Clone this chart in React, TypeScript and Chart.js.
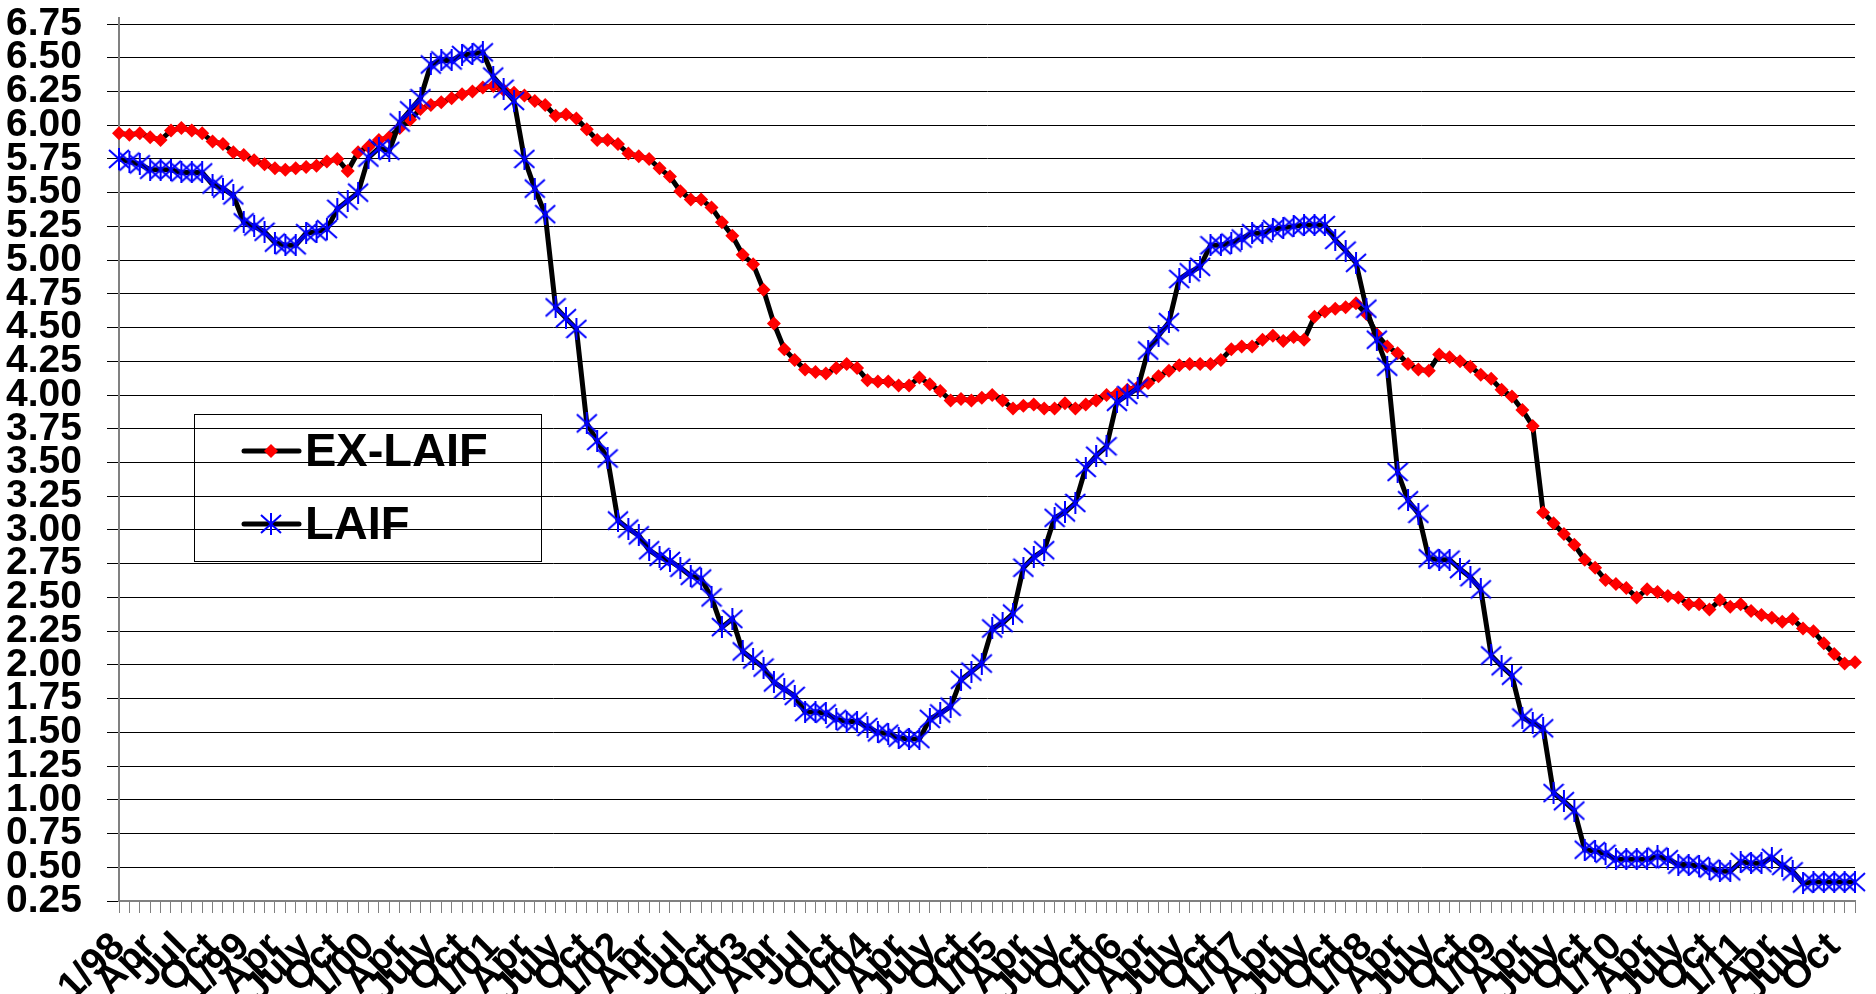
import React, { useEffect, useRef } from "react";
import { Chart, registerables } from "chart.js";

Chart.register(...registerables);

// Quarterly axis labels (one every third month), Jan 1998 .. Oct 2011
const quarterLabels = [
  "1/98", "Apr", "Jul", "Oct",
  "1/99", "Apr", "July", "Oct",
  "1/00", "Apr", "July", "Oct",
  "1/01", "Apr", "July", "Oct",
  "1/02", "Apr", "Jul", "Oct",
  "1/03", "Apr", "Jul", "Oct",
  "1/04", "Apr", "July", "Oct",
  "1/05", "Apr", "July", "Oct",
  "1/06", "Apr", "July", "Oct",
  "1/07", "Apr", "July", "Oct",
  "1/08", "Apr", "July", "Oct",
  "1/09", "Apr", "July", "Oct",
  "1/10", "Apr", "July", "Oct",
  "1/11", "Apr", "July", "Oct",
];

// Monthly values, Jan 1998 .. Dec 2011
const laif = [
  5.75, 5.73, 5.71, 5.67, 5.67, 5.67, 5.65, 5.65, 5.65, 5.56, 5.53, 5.48,
  5.28, 5.25, 5.21, 5.13, 5.11, 5.11, 5.20, 5.21, 5.23, 5.38, 5.44, 5.50,
  5.76, 5.83, 5.81, 6.02, 6.11, 6.20, 6.45, 6.48, 6.48, 6.52, 6.53, 6.54,
  6.36, 6.27, 6.18, 5.75, 5.53, 5.34, 4.65, 4.57, 4.49, 3.79, 3.66, 3.53,
  3.07, 3.01, 2.96, 2.85, 2.80, 2.77, 2.72, 2.66, 2.64, 2.50, 2.28, 2.34,
  2.10, 2.04, 1.98, 1.87, 1.82, 1.77, 1.65, 1.65, 1.64, 1.60, 1.58, 1.58,
  1.54, 1.50, 1.49, 1.46, 1.45, 1.45, 1.60, 1.64, 1.69, 1.89, 1.95, 2.01,
  2.27, 2.31, 2.38, 2.72, 2.80, 2.85, 3.09, 3.13, 3.20, 3.46, 3.55, 3.62,
  3.95, 4.00, 4.05, 4.33, 4.44, 4.54, 4.86, 4.91, 4.95, 5.11, 5.11, 5.13,
  5.16, 5.20, 5.20, 5.23, 5.24, 5.25, 5.26, 5.26, 5.26, 5.15, 5.07, 4.98,
  4.64, 4.41, 4.21, 3.43, 3.22, 3.12, 2.79, 2.78, 2.78, 2.71, 2.65, 2.56,
  2.07, 1.99, 1.92, 1.61, 1.57, 1.53, 1.05, 0.99, 0.92, 0.63, 0.62, 0.60,
  0.56, 0.56, 0.56, 0.56, 0.58, 0.56, 0.52, 0.52, 0.51, 0.49, 0.47, 0.47,
  0.54, 0.53, 0.53, 0.57, 0.51, 0.47, 0.38, 0.39, 0.39, 0.39, 0.39, 0.39,
];

const exLaif = [
  5.94, 5.93, 5.94, 5.91, 5.89, 5.96, 5.98, 5.96, 5.94, 5.88, 5.86, 5.80,
  5.78, 5.74, 5.71, 5.68, 5.67, 5.68, 5.69, 5.70, 5.73, 5.75, 5.66, 5.80,
  5.84, 5.89, 5.91, 5.98, 6.04, 6.12, 6.15, 6.17, 6.20, 6.23, 6.25, 6.28,
  6.29, 6.26, 6.24, 6.22, 6.18, 6.15, 6.07, 6.08, 6.05, 5.97, 5.89, 5.89,
  5.86, 5.79, 5.77, 5.75, 5.68, 5.62, 5.51, 5.45, 5.45, 5.39, 5.28, 5.18,
  5.04, 4.97, 4.78, 4.53, 4.34, 4.26, 4.19, 4.17, 4.16, 4.20, 4.23, 4.20,
  4.11, 4.10, 4.10, 4.07, 4.07, 4.13, 4.08, 4.03, 3.96, 3.97, 3.96, 3.98,
  4.00, 3.96, 3.90, 3.92, 3.93, 3.90, 3.90, 3.94, 3.90, 3.93, 3.96, 4.00,
  4.01, 4.04, 4.06, 4.09, 4.14, 4.18, 4.22, 4.23, 4.23, 4.23, 4.26, 4.34,
  4.36, 4.36, 4.41, 4.44, 4.40, 4.43, 4.41, 4.58, 4.62, 4.64, 4.65, 4.68,
  4.60, 4.45, 4.36, 4.31, 4.23, 4.19, 4.18, 4.30, 4.28, 4.25, 4.21, 4.15,
  4.12, 4.04, 3.99, 3.89, 3.77, 3.13, 3.05, 2.97, 2.89, 2.78, 2.72, 2.63,
  2.60, 2.57, 2.50, 2.56, 2.54, 2.51, 2.50, 2.45, 2.45, 2.41, 2.48, 2.43,
  2.45, 2.40, 2.37, 2.35, 2.32, 2.34, 2.27, 2.25, 2.16, 2.08, 2.01, 2.02,
];

const seriesNames = ["EX-LAIF", "LAIF"];

const FONT = "'Liberation Sans', Arial, sans-serif";

function makeAsterisk(size: number, color: string, lw: number) {
  const c = document.createElement("canvas");
  c.width = size;
  c.height = size;
  const g = c.getContext("2d")!;
  g.strokeStyle = color;
  g.lineWidth = lw;
  g.beginPath();
  g.moveTo(1, 2);
  g.lineTo(size - 1, size - 2);
  g.moveTo(size - 1, 2);
  g.lineTo(1, size - 2);
  g.moveTo(size / 2, 0);
  g.lineTo(size / 2, size);
  g.stroke();
  return c;
}

export default function App() {
  const ref = useRef<HTMLCanvasElement | null>(null);

  useEffect(() => {
    if (!ref.current) return;
    const asterisk = makeAsterisk(22, "#0000FF", 2);
    const categories = laif.map((_, i) => (i % 3 === 0 ? quarterLabels[i / 3] ?? "" : ""));

    const legendPlugin = {
      id: "boxLegend",
      afterDraw(chart: any) {
        const ctx = chart.ctx as CanvasRenderingContext2D;
        const a = chart.chartArea;
        ctx.save();
        // small extension of the value axis above the plot, as in the original
        ctx.strokeStyle = "#808080";
        ctx.lineWidth = 2;
        ctx.beginPath();
        ctx.moveTo(a.left, a.top - 7);
        ctx.lineTo(a.left, a.top);
        ctx.stroke();

        const bx = a.left + 75;
        const by = a.top + 390;
        const bw = 347;
        const bh = 147;
        ctx.strokeStyle = "#000";
        ctx.lineWidth = 1;
        ctx.strokeRect(Math.round(bx) + 0.5, Math.round(by) + 0.5, bw, bh);
        const rows = [
          { name: seriesNames[0], cy: by + 37, kind: "diamond" },
          { name: seriesNames[1], cy: by + 110, kind: "asterisk" },
        ];
        for (const r of rows) {
          ctx.strokeStyle = "#000";
          ctx.lineWidth = 5;
          ctx.lineCap = "round";
          ctx.beginPath();
          ctx.moveTo(bx + 50, r.cy);
          ctx.lineTo(bx + 105, r.cy);
          ctx.stroke();
          const mx = bx + 77;
          if (r.kind === "diamond") {
            ctx.fillStyle = "#FF0000";
            ctx.beginPath();
            ctx.moveTo(mx - 7, r.cy);
            ctx.lineTo(mx, r.cy - 7);
            ctx.lineTo(mx + 7, r.cy);
            ctx.lineTo(mx, r.cy + 7);
            ctx.closePath();
            ctx.fill();
          } else {
            ctx.drawImage(asterisk, mx - 11, r.cy - 11);
          }
          ctx.fillStyle = "#000";
          ctx.font = `bold 47px ${FONT}`;
          ctx.textAlign = "left";
          ctx.textBaseline = "middle";
          ctx.fillText(r.name, bx + 111, r.cy + 2);
        }
        ctx.restore();
      },
    };

    const chart = new Chart(ref.current, {
      type: "line",
      data: {
        labels: categories,
        datasets: [
          {
            label: seriesNames[1],
            data: laif,
            borderColor: "#000000",
            borderWidth: 5,
            pointStyle: asterisk as any,
            pointRadius: 11,
            tension: 0,
          },
          {
            label: seriesNames[0],
            data: exLaif,
            borderColor: "#000000",
            borderWidth: 5,
            pointStyle: "rectRot",
            pointRadius: 7,
            pointBackgroundColor: "#FF0000",
            pointBorderColor: "#FF0000",
            pointBorderWidth: 0,
            tension: 0,
          },
        ],
      },
      options: {
        animation: false,
        responsive: false,
        devicePixelRatio: 1,
        events: [],
        layout: { padding: { left: 0, top: 24, right: 21, bottom: 0 } },
        plugins: {
          legend: { display: false },
          tooltip: { enabled: false },
          title: { display: false },
        },
        scales: {
          x: {
            type: "category",
            offset: false,
            afterFit: (s: any) => {
              s.height = 93;
              s.paddingLeft = 0;
              s.paddingRight = 0;
            },
            grid: {
              drawOnChartArea: false,
              drawTicks: true,
              tickLength: 12,
              color: "#808080",
              lineWidth: 1,
            },
            border: { color: "#808080", width: 2 },
            ticks: {
              autoSkip: false,
              maxRotation: 45,
              minRotation: 45,
              padding: 11,
              color: "#000",
              font: { family: FONT, size: 39, weight: "bold" },
            },
          },
          y: {
            min: 0.25,
            max: 6.75,
            afterFit: (s: any) => {
              s.width = 119;
              s.paddingTop = 0;
              s.paddingBottom = 0;
            },
            grid: {
              color: "#000000",
              lineWidth: 1,
              drawTicks: true,
              tickLength: 12,
            },
            border: { color: "#808080", width: 2 },
            ticks: {
              stepSize: 0.25,
              autoSkip: false,
              maxTicksLimit: 100,
              padding: 25,
              color: "#000",
              font: { family: FONT, size: 39, weight: "bold" },
              callback: (v: any) => Number(v).toFixed(2),
            },
          },
        },
      },
      plugins: [legendPlugin],
    } as any);
    return () => chart.destroy();
  }, []);

  return (
    <div style={{ position: "fixed", left: 0, top: 0, width: 1876, height: 994, background: "#fff" }}>
      <canvas ref={ref} width={1876} height={994} style={{ display: "block" }} />
    </div>
  );
}
